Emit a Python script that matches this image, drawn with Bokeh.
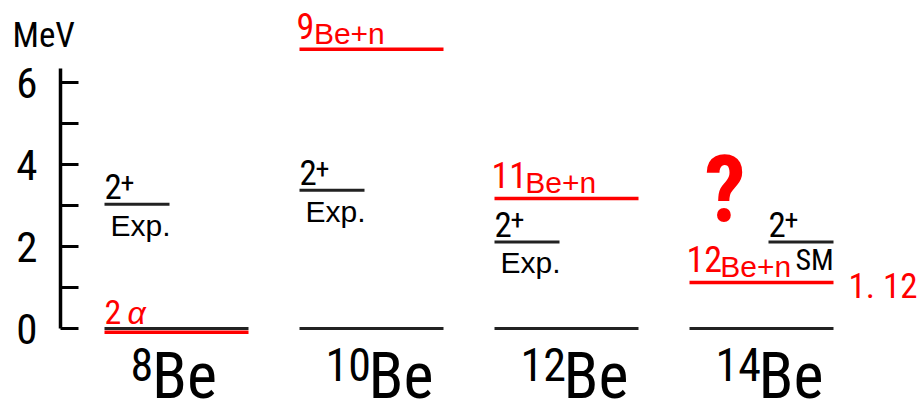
from bokeh.plotting import figure
from bokeh.models import Range1d, LinearAxis, FixedTicker
from bokeh.embed import file_html
from bokeh.resources import INLINE
from bokeh.core.properties import value

# ---- level scheme of the Be isotopes (energies in MeV) ----
mass_numbers = ["8", "10", "12", "14"]
ground_state = [0.0, 0.0, 0.0, 0.0]
first_2plus = [3.03, 3.37, 2.11, 2.11]
first_2plus_origin = ["Exp.", "Exp.", "Exp.", "SM"]
threshold_energy = [-0.092, 6.81, 3.17, 1.12]
threshold_core = ["", "9", "11", "12"]
threshold_shown_value = 1.12
y_ticks = [0, 2, 4, 6]
y_minor_ticks = [1, 3, 5]
unit_label = "MeV"

# ---- layout (pixels) ----
W, H = 919, 401
AXIS_X = 60
ZERO_PX = 328          # pixel row of 0 MeV
PX_PER_MEV = 41
COL_LEFT0, COL_STEP = 104, 195
LEVEL_W, SHORT_W = 144, 65
BASE_SHIFT = 0.34      # baseline correction of the svg text, in em

NARROW = "Roboto Condensed, DejaVu Sans Condensed, Liberation Sans"
REGULAR = "Liberation Sans"
RED = "#ff0000"
DARK = "#222222"


def px(d):
    """pixel distance -> MeV"""
    return d / PX_PER_MEV


# x data units are screen pixels
p = figure(width=W, height=H,
           x_range=Range1d(0, W),
           y_range=Range1d(-px(H - ZERO_PX), px(ZERO_PX)),
           x_axis_type=None, y_axis_type=None,
           min_border_left=0, min_border_right=0,
           min_border_top=0, min_border_bottom=0,
           outline_line_color=None, title=None,
           output_backend="svg", toolbar_location=None)

yaxis = LinearAxis(ticker=FixedTicker(ticks=y_ticks, minor_ticks=y_minor_ticks),
                   fixed_location=AXIS_X,
                   bounds=(0, y_ticks[-1] + 0.34),
                   axis_line_width=3.5, axis_line_color="black",
                   major_tick_in=18, major_tick_out=0,
                   minor_tick_in=18, minor_tick_out=0,
                   major_tick_line_width=3, minor_tick_line_width=3,
                   major_tick_line_color="black", minor_tick_line_color="black",
                   major_label_standoff=23,
                   major_label_text_font=NARROW,
                   major_label_text_font_size="43px",
                   major_label_text_color="black")
p.add_layout(yaxis, "left")


def txt(x, base, s, size, color="black", font=NARROW, style="normal"):
    p.text(x=[x], y=[base + px(BASE_SHIFT * size)], text=[s],
           text_font=value(font), text_font_size=f"{size}px",
           text_color=color, text_font_style=style,
           text_baseline="alphabetic", text_align="left")


# unit label above the axis
txt(12, px(ZERO_PX - 47), unit_label, 35)

cols = [COL_LEFT0 + COL_STEP * i for i in range(len(mass_numbers))]

# ground states
p.segment(x0=cols, y0=ground_state, x1=[c + LEVEL_W for c in cols],
          y1=ground_state, line_color=DARK, line_width=3)

# neutron / alpha thresholds
p.segment(x0=cols, y0=threshold_energy, x1=[c + LEVEL_W for c in cols],
          y1=threshold_energy, line_color=RED, line_width=3.5)

# first 2+ states
x2 = [c if o == "Exp." else c + LEVEL_W - SHORT_W
      for c, o in zip(cols, first_2plus_origin)]
p.segment(x0=x2, y0=first_2plus, x1=[x + SHORT_W for x in x2],
          y1=first_2plus, line_color=DARK, line_width=3)

for i, (L, A, e2, org, eth, core) in enumerate(zip(
        cols, mass_numbers, first_2plus, first_2plus_origin,
        threshold_energy, threshold_core)):
    g = ground_state[i]
    # isotope name below the ground state
    txt(L + 26, g - px(52), A, 46)
    txt(L + 26 + 21.5 * len(A), g - px(70), "Be", 64)

    # 2+ level labels
    x0 = x2[i]
    txt(x0, e2 + px(6), "2", 35)
    txt(x0 + 16, e2 + px(13), "+", 28)
    if org == "Exp.":
        txt(x0 + 6, e2 - px(31), org, 30, font=REGULAR)
    else:
        txt(x0 + 27, e2 - px(28), org, 30)

    # threshold labels
    if core == "":
        txt(L, g + px(5), "2", 34, color=RED)
        txt(L + 23, g + px(5), "\u03b1", 32, color=RED, font=REGULAR,
            style="italic")
    else:
        txt(L - 3, eth + px(11), core, 36, color=RED)
        txt(L - 2 + 16.4 * len(core), eth + px(6), "Be+n", 30,
            color=RED, font=REGULAR)
    if eth == threshold_shown_value:
        txt(L + LEVEL_W + 15, eth - px(15.5),
            f"{eth:.2f}".replace(".", ". "), 35, color=RED)
        # unknown 2+ state in 14Be
        txt(L + 15, e2 + px(21), "?", 92, color=RED, style="bold")

open("out.html", "w").write(file_html(p, INLINE))
